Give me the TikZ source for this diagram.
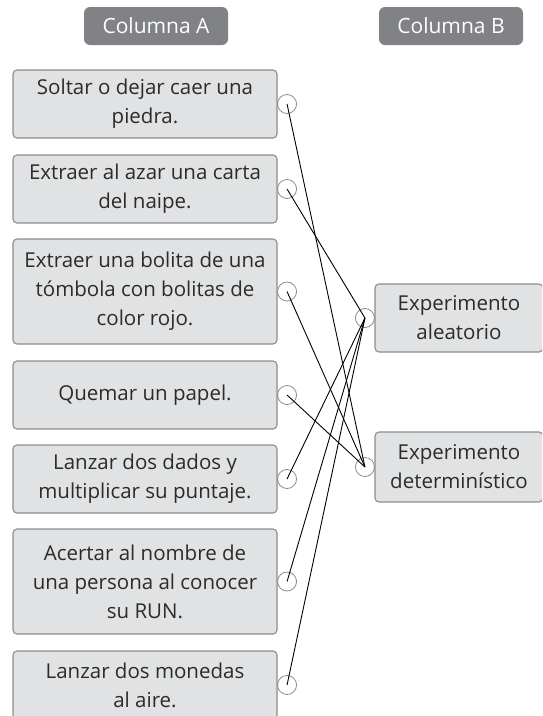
\documentclass[tikz,border=0pt]{standalone}
\usepackage{fontspec}
\setmainfont{Open Sans}
\begin{document}
\begin{tikzpicture}[x=1pt, y=-1pt,
    itembox/.style={draw=boxBorder, fill=boxFill, line width=1.1pt, rounded corners=4pt,
        align=center, text=textColour, inner sep=0pt, font=\fontsize{20.5}{29}\selectfont},
    headbox/.style={fill=headFill, rounded corners=6pt, text=white, minimum width=144pt,
        minimum height=38pt, inner sep=0pt, font=\fontsize{21}{24}\selectfont},
    dot/.style={circle, draw=dotBorder, fill=white, line width=0.8pt, minimum size=19pt, inner sep=0pt},
    link/.style={black, line width=0.9pt}]
    \def\colAwidth{264pt}
    \def\colBwidth{168pt}

    \definecolor{boxBorder}{HTML}{8C8D90}
    \definecolor{boxFill}{HTML}{E1E2E3}
    \definecolor{headFill}{HTML}{808285}
    \definecolor{dotBorder}{HTML}{8A8A8A}
    \definecolor{textColour}{HTML}{2B2B2B}

    \useasboundingbox (0,0) rectangle (542,716);
    \clip (0,0) rectangle (542,716);

    % Headers
    \node[headbox] (headA) at (156,26) {Columna A};
    \node[headbox] (headB) at (451,26) {Columna B};

    % Column A
    \node[itembox, minimum width=\colAwidth, minimum height=68pt] (a1) at (145,104)
        {Soltar o dejar caer una\\piedra.};
    \node[itembox, minimum width=\colAwidth, minimum height=68pt] (a2) at (145,189)
        {Extraer al azar una carta\\del naipe.};
    \node[itembox, minimum width=\colAwidth, minimum height=105pt] (a3) at (145,291.5)
        {Extraer una bolita de una\\tómbola con bolitas de\\color rojo.};
    \node[itembox, minimum width=\colAwidth, minimum height=68pt] (a4) at (145,395)
        {Quemar un papel.};
    \node[itembox, minimum width=\colAwidth, minimum height=68pt] (a5) at (145,479)
        {Lanzar dos dados y\\multiplicar su puntaje.};
    \node[itembox, minimum width=\colAwidth, minimum height=105pt] (a6) at (145,581.5)
        {Acertar al nombre de\\una persona al conocer\\su RUN.};
    \node[itembox, minimum width=\colAwidth, minimum height=68pt] (a7) at (145,685)
        {Lanzar dos monedas\\al aire.};

    % Column B
    \node[itembox, minimum width=\colBwidth, minimum height=68pt] (b1) at (459,318)
        {Experimento\\aleatorio};
    \node[itembox, minimum width=\colBwidth, minimum height=70pt] (b2) at (459,467)
        {Experimento\\determinístico};

    % Draw circles
    \foreach \i in {1,...,7}
        \node[dot] (da\i) at ([xshift=9.5pt]a\i.east) {};
    \foreach \i in {1,2}
        \node[dot] (db\i) at ([xshift=-9.5pt]b\i.west) {};

    % Draw links
    \draw[link] (da1.center) -- (db2.center);
    \draw[link] (da2.center) -- (db1.center);
    \draw[link] (da3.center) -- (db2.center);
    \draw[link] (da4.center) -- (db2.center);
    \draw[link] (da5.center) -- (db1.center);
    \draw[link] (da6.center) -- (db1.center);
    \draw[link] (da7.center) -- (db1.center);

\end{tikzpicture}
\end{document}
